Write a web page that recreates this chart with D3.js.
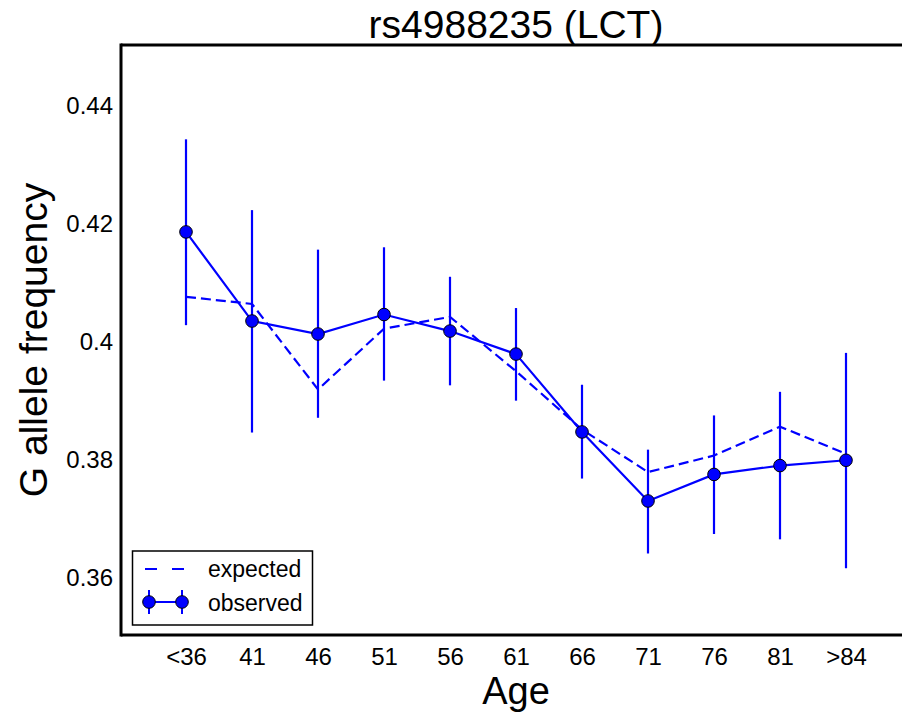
<!DOCTYPE html>
<html>
<head>
<meta charset="utf-8">
<script src="https://cdn.jsdelivr.net/npm/d3@7"></script>
<style>
  html, body { margin: 0; padding: 0; background: #fff; }
  svg { display: block; font-family: "Liberation Sans", Arial, sans-serif; }
</style>
</head>
<body>
<svg id="chart" width="902" height="719"></svg>
<script>
const categories = ["<36", "41", "46", "51", "56", "61", "66", "71", "76", "81", ">84"];
const observed   = [0.4184, 0.4033, 0.4011, 0.4044, 0.4016, 0.3977, 0.3845, 0.3728, 0.3773, 0.3788, 0.3797];
const errUpper   = [0.4341, 0.4221, 0.4154, 0.4158, 0.4108, 0.4055, 0.3925, 0.3815, 0.3873, 0.3913, 0.3979];
const errLower   = [0.4026, 0.3844, 0.3869, 0.3932, 0.3924, 0.3898, 0.3766, 0.3639, 0.3672, 0.3663, 0.3614];
const expected   = [0.4074, 0.4062, 0.3917, 0.4020, 0.4040, 0.3948, 0.3849, 0.3777, 0.3805, 0.3854, 0.3808];
const yTicks     = [0.36, 0.38, 0.40, 0.42, 0.44];
const yTickLabels = ["0.36", "0.38", "0.4", "0.42", "0.44"];

(function () {
const svg = d3.select("#chart");
const pLeft = 121, pTop = 45, pBottom = 635, pRight = 913;
const blue = "#0000ff";

const x = d3.scaleLinear().domain([-1, 11]).range([pLeft - 1, pRight - 1]);
const y = d3.scaleLinear().domain([0.35, 0.45]).range([pBottom + 0.5, pTop + 0.5]);

// Title
svg.append("text").attr("x", 516).attr("y", 38).attr("text-anchor", "middle")
  .attr("font-size", 39).attr("fill", "#000").text("rs4988235 (LCT)");

// Axis labels
svg.append("text").attr("x", 516).attr("y", 704).attr("text-anchor", "middle")
  .attr("font-size", 38).attr("fill", "#000").text("Age");
svg.append("text").attr("transform", "translate(47,340) rotate(-90)").attr("text-anchor", "middle")
  .attr("font-size", 39).attr("fill", "#000").text("G allele frequency");

// Y axis ticks (labels only)
const yAxis = d3.axisLeft(y).tickValues(yTicks).tickSize(0).tickPadding(0)
  .tickFormat((d, i) => yTickLabels[i]);
const gy = svg.append("g").attr("transform", "translate(113,0)").call(yAxis);
gy.select(".domain").remove();
gy.selectAll("text").attr("font-size", 24).attr("fill", "#000")
  .attr("font-family", "Liberation Sans, Arial, sans-serif").attr("dy", "0.36em");

// X axis ticks (labels only)
const xAxis = d3.axisBottom(x).tickValues(d3.range(categories.length)).tickSize(0).tickPadding(0)
  .tickFormat(i => categories[i]);
const gx = svg.append("g").attr("transform", "translate(0,648)").call(xAxis);
gx.select(".domain").remove();
gx.selectAll("text").attr("font-size", 24).attr("fill", "#000")
  .attr("font-family", "Liberation Sans, Arial, sans-serif").attr("dy", "0.71em");

const idx = d3.range(categories.length);

// Expected dashed line
svg.append("path")
  .attr("d", d3.line().x(i => x(i)).y(i => y(expected[i]))(idx))
  .attr("fill", "none").attr("stroke", blue).attr("stroke-width", 2.2)
  .attr("stroke-dasharray", "10,5");

// Error bars
svg.append("g").selectAll("line").data(idx).join("line")
  .attr("x1", i => x(i)).attr("x2", i => x(i))
  .attr("y1", i => y(errUpper[i])).attr("y2", i => y(errLower[i]))
  .attr("stroke", blue).attr("stroke-width", 2.2);

// Observed line
svg.append("path")
  .attr("d", d3.line().x(i => x(i)).y(i => y(observed[i]))(idx))
  .attr("fill", "none").attr("stroke", blue).attr("stroke-width", 2.2);

// Markers
svg.append("g").selectAll("circle").data(idx).join("circle")
  .attr("cx", i => x(i)).attr("cy", i => y(observed[i])).attr("r", 6.3)
  .attr("fill", blue).attr("stroke", "#000").attr("stroke-width", 1);

// Frame
svg.append("line").attr("x1", pLeft).attr("x2", 905).attr("y1", pTop).attr("y2", pTop)
  .attr("stroke", "#000").attr("stroke-width", 3);
svg.append("line").attr("x1", pLeft).attr("x2", 905).attr("y1", pBottom).attr("y2", pBottom)
  .attr("stroke", "#000").attr("stroke-width", 3);
svg.append("line").attr("x1", pLeft).attr("x2", pLeft).attr("y1", pTop - 1.5).attr("y2", pBottom + 1.5)
  .attr("stroke", "#000").attr("stroke-width", 3);

// Legend
const lg = svg.append("g");
lg.append("rect").attr("x", 132.5).attr("y", 551).attr("width", 180).attr("height", 74)
  .attr("fill", "#fff").attr("stroke", "#000").attr("stroke-width", 1.5);
lg.append("line").attr("x1", 145).attr("x2", 184).attr("y1", 569).attr("y2", 569)
  .attr("stroke", blue).attr("stroke-width", 2).attr("stroke-dasharray", "12,15");
lg.append("text").attr("x", 208).attr("y", 577).attr("font-size", 23).attr("fill", "#000").text("expected");
lg.append("line").attr("x1", 149).attr("x2", 182).attr("y1", 602).attr("y2", 602)
  .attr("stroke", blue).attr("stroke-width", 2);
[149, 182].forEach(cx => {
  lg.append("line").attr("x1", cx).attr("x2", cx).attr("y1", 590).attr("y2", 614)
    .attr("stroke", blue).attr("stroke-width", 2);
  lg.append("circle").attr("cx", cx).attr("cy", 602).attr("r", 6.3)
    .attr("fill", blue).attr("stroke", "#000").attr("stroke-width", 1);
});
lg.append("text").attr("x", 208).attr("y", 611).attr("font-size", 23).attr("fill", "#000").text("observed");
})();
</script>
</body>
</html>
